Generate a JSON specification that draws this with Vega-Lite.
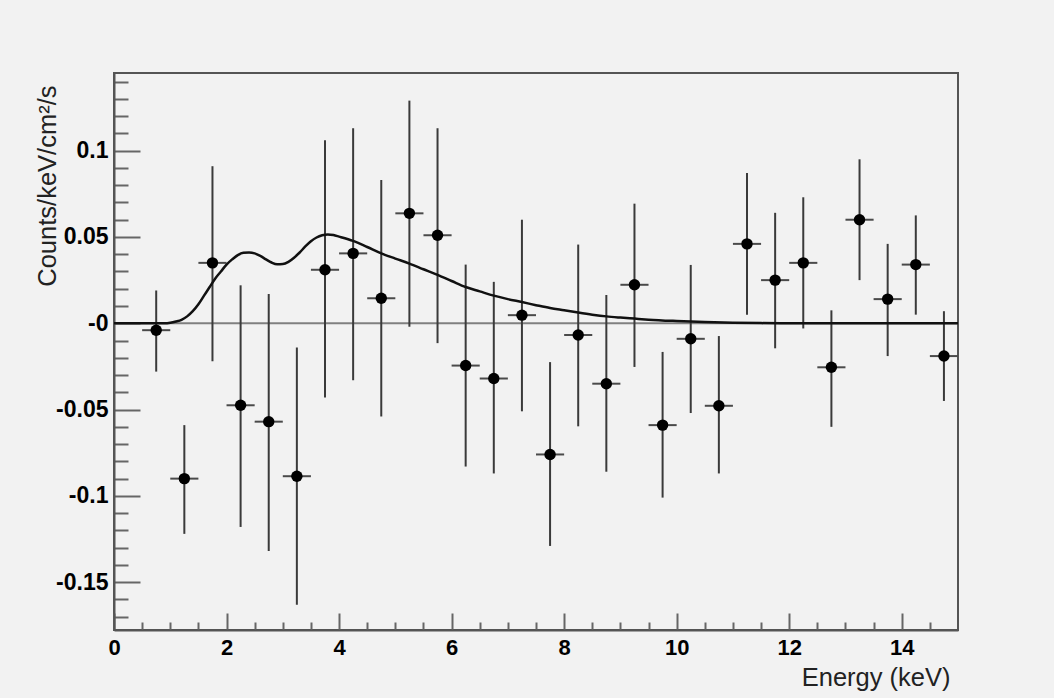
{
  "$schema": "https://vega.github.io/schema/vega-lite/v6.json",
  "width": 844,
  "height": 557,
  "autosize": {"type": "none"},
  "padding": {"left": 114, "top": 73, "right": 96, "bottom": 68},
  "background": "#f2f2f2",
  "config": {
    "view": {"stroke": "#555555", "strokeWidth": 2, "fill": "#f2f2f2"},
    "axis": {
      "grid": false,
      "domainColor": "#555555",
      "domainWidth": 2,
      "tickColor": "#666666",
      "tickWidth": 2,
      "tickCount": 200,
      "labelFont": "Liberation Sans",
      "labelFontWeight": "bold",
      "labelColor": "#000000",
      "labelFontSize": 22,
      "labelOverlap": false,
      "labelBound": false,
      "labelFlush": false,
      "titleFont": "Liberation Sans",
      "titleFontWeight": "normal",
      "titleFontSize": 25.5,
      "titleColor": "#222222"
    }
  },
  "datasets": {
    "points": [
      {"x": 0.75, "xlo": 0.5, "xhi": 1.0, "y": -0.004, "lo": -0.028, "hi": 0.019},
      {"x": 1.25, "xlo": 1.0, "xhi": 1.5, "y": -0.090, "lo": -0.122, "hi": -0.059},
      {"x": 1.75, "xlo": 1.5, "xhi": 2.0, "y": 0.035, "lo": -0.022, "hi": 0.091},
      {"x": 2.25, "xlo": 2.0, "xhi": 2.5, "y": -0.0475, "lo": -0.118, "hi": 0.022},
      {"x": 2.75, "xlo": 2.5, "xhi": 3.0, "y": -0.057, "lo": -0.132, "hi": 0.017},
      {"x": 3.25, "xlo": 3.0, "xhi": 3.5, "y": -0.0886, "lo": -0.163, "hi": -0.014},
      {"x": 3.75, "xlo": 3.5, "xhi": 4.0, "y": 0.031, "lo": -0.043, "hi": 0.106},
      {"x": 4.25, "xlo": 4.0, "xhi": 4.5, "y": 0.0405, "lo": -0.033, "hi": 0.113},
      {"x": 4.75, "xlo": 4.5, "xhi": 5.0, "y": 0.0145, "lo": -0.054, "hi": 0.083},
      {"x": 5.25, "xlo": 5.0, "xhi": 5.5, "y": 0.0637, "lo": -0.002, "hi": 0.129},
      {"x": 5.75, "xlo": 5.5, "xhi": 6.0, "y": 0.051, "lo": -0.0115, "hi": 0.113},
      {"x": 6.25, "xlo": 6.0, "xhi": 6.5, "y": -0.0245, "lo": -0.083, "hi": 0.034},
      {"x": 6.75, "xlo": 6.5, "xhi": 7.0, "y": -0.032, "lo": -0.087, "hi": 0.024},
      {"x": 7.25, "xlo": 7.0, "xhi": 7.5, "y": 0.0047, "lo": -0.051, "hi": 0.060},
      {"x": 7.75, "xlo": 7.5, "xhi": 8.0, "y": -0.076, "lo": -0.129, "hi": -0.0225},
      {"x": 8.25, "xlo": 8.0, "xhi": 8.5, "y": -0.0068, "lo": -0.0597, "hi": 0.0456},
      {"x": 8.75, "xlo": 8.5, "xhi": 9.0, "y": -0.035, "lo": -0.086, "hi": 0.0164},
      {"x": 9.25, "xlo": 9.0, "xhi": 9.5, "y": 0.0223, "lo": -0.0253, "hi": 0.0693},
      {"x": 9.75, "xlo": 9.5, "xhi": 10.0, "y": -0.059, "lo": -0.101, "hi": -0.0166},
      {"x": 10.25, "xlo": 10.0, "xhi": 10.5, "y": -0.009, "lo": -0.052, "hi": 0.0338},
      {"x": 10.75, "xlo": 10.5, "xhi": 11.0, "y": -0.0478, "lo": -0.087, "hi": -0.0074},
      {"x": 11.25, "xlo": 11.0, "xhi": 11.5, "y": 0.046, "lo": 0.005, "hi": 0.087},
      {"x": 11.75, "xlo": 11.5, "xhi": 12.0, "y": 0.025, "lo": -0.0145, "hi": 0.064},
      {"x": 12.25, "xlo": 12.0, "xhi": 12.5, "y": 0.035, "lo": -0.003, "hi": 0.073},
      {"x": 12.75, "xlo": 12.5, "xhi": 13.0, "y": -0.0255, "lo": -0.060, "hi": 0.0075},
      {"x": 13.25, "xlo": 13.0, "xhi": 13.5, "y": 0.060, "lo": 0.025, "hi": 0.095},
      {"x": 13.75, "xlo": 13.5, "xhi": 14.0, "y": 0.014, "lo": -0.019, "hi": 0.046},
      {"x": 14.25, "xlo": 14.0, "xhi": 14.5, "y": 0.034, "lo": 0.005, "hi": 0.0625},
      {"x": 14.75, "xlo": 14.5, "xhi": 15.0, "y": -0.019, "lo": -0.045, "hi": 0.007}
    ],
    "curve": [
      {"e": 0.0, "f": 0.0}, {"e": 0.5, "f": 0.0}, {"e": 0.9, "f": 0.0},
      {"e": 1.0, "f": 0.0003}, {"e": 1.1, "f": 0.001}, {"e": 1.2, "f": 0.002},
      {"e": 1.3, "f": 0.004}, {"e": 1.4, "f": 0.007}, {"e": 1.5, "f": 0.011},
      {"e": 1.6, "f": 0.016}, {"e": 1.7, "f": 0.021}, {"e": 1.8, "f": 0.026},
      {"e": 1.9, "f": 0.030}, {"e": 2.0, "f": 0.034}, {"e": 2.1, "f": 0.037},
      {"e": 2.2, "f": 0.0395}, {"e": 2.3, "f": 0.0408}, {"e": 2.4, "f": 0.041},
      {"e": 2.5, "f": 0.0405}, {"e": 2.6, "f": 0.039}, {"e": 2.7, "f": 0.037},
      {"e": 2.8, "f": 0.0352}, {"e": 2.9, "f": 0.0342}, {"e": 3.0, "f": 0.0343},
      {"e": 3.1, "f": 0.0356}, {"e": 3.2, "f": 0.038}, {"e": 3.3, "f": 0.041},
      {"e": 3.4, "f": 0.0445}, {"e": 3.5, "f": 0.0475}, {"e": 3.6, "f": 0.0497},
      {"e": 3.7, "f": 0.051}, {"e": 3.8, "f": 0.0515}, {"e": 3.9, "f": 0.0511},
      {"e": 4.0, "f": 0.0502}, {"e": 4.25, "f": 0.0477}, {"e": 4.5, "f": 0.0442},
      {"e": 4.75, "f": 0.0405}, {"e": 5.0, "f": 0.0375}, {"e": 5.25, "f": 0.0346},
      {"e": 5.5, "f": 0.0313}, {"e": 5.75, "f": 0.028}, {"e": 6.0, "f": 0.0245},
      {"e": 6.25, "f": 0.021}, {"e": 6.5, "f": 0.0185}, {"e": 6.75, "f": 0.016},
      {"e": 7.0, "f": 0.014}, {"e": 7.25, "f": 0.0123}, {"e": 7.5, "f": 0.0105},
      {"e": 7.75, "f": 0.0088}, {"e": 8.0, "f": 0.0075}, {"e": 8.25, "f": 0.0062},
      {"e": 8.5, "f": 0.005}, {"e": 8.75, "f": 0.004}, {"e": 9.0, "f": 0.0033},
      {"e": 9.25, "f": 0.0027}, {"e": 9.5, "f": 0.0021}, {"e": 10.0, "f": 0.0013},
      {"e": 10.5, "f": 0.0007}, {"e": 11.0, "f": 0.0003}, {"e": 11.5, "f": 0.0001},
      {"e": 12.0, "f": 0.0}, {"e": 15.0, "f": 0.0}
    ],
    "zero": [{"v": 0}]
  },
  "layer": [
    {
      "data": {"name": "zero"},
      "mark": {"type": "rule", "color": "#808080", "strokeWidth": 2},
      "encoding": {
        "y": {
          "field": "v", "type": "quantitative",
          "scale": {"domain": [-0.1777, 0.145], "nice": false, "zero": false},
          "axis": {
            "values": [-0.17,-0.16,-0.15,-0.14,-0.13,-0.12,-0.11,-0.1,-0.09,-0.08,-0.07,-0.06,-0.05,-0.04,-0.03,-0.02,-0.01,0,0.01,0.02,0.03,0.04,0.05,0.06,0.07,0.08,0.09,0.1,0.11,0.12,0.13,0.14],
            "tickCount": 200,
            "labelExpr": "abs(round(datum.value*100)) % 5 == 0 ? (abs(datum.value) < 0.000001 ? '-0' : ((datum.value < 0 ? '-' : '') + format(abs(datum.value), '~g'))) : ''",
            "tickSize": {"condition": {"test": "abs(round(datum.value*100)) % 5 == 0", "value": -26}, "value": -14},
            "labelPadding": 32,
            "labelFontSize": 23,
            "title": "Counts/keV/cm²/s",
            "titleAngle": -90,
            "titleAlign": "right",
            "titleBaseline": "middle",
            "titleX": -67,
            "titleY": 12
          }
        }
      }
    },
    {
      "data": {"name": "points"},
      "mark": {"type": "rule", "color": "#3a3a3a", "strokeWidth": 2},
      "encoding": {
        "x": {
          "field": "x", "type": "quantitative",
          "scale": {"domain": [0, 15], "nice": false, "zero": false},
          "axis": {
            "values": [0,0.5,1,1.5,2,2.5,3,3.5,4,4.5,5,5.5,6,6.5,7,7.5,8,8.5,9,9.5,10,10.5,11,11.5,12,12.5,13,13.5,14,14.5],
            "tickCount": 200,
            "labelExpr": "datum.value % 2 == 0 ? format(datum.value, 'd') : ''",
            "tickSize": {"condition": {"test": "datum.value % 2 == 0", "value": -17}, "value": -8},
            "labelPadding": 24,
            "title": "Energy (keV)",
            "titleAlign": "right",
            "titleBaseline": "alphabetic",
            "titleX": 836,
            "titleY": 55
          }
        },
        "y": {"field": "lo", "type": "quantitative"},
        "y2": {"field": "hi"}
      }
    },
    {
      "data": {"name": "points"},
      "mark": {"type": "rule", "color": "#4a4a4a", "strokeWidth": 2},
      "encoding": {
        "x": {"field": "xlo", "type": "quantitative"},
        "x2": {"field": "xhi"},
        "y": {"field": "y", "type": "quantitative"}
      }
    },
    {
      "data": {"name": "curve"},
      "mark": {"type": "line", "color": "#111111", "strokeWidth": 2.5, "interpolate": "monotone"},
      "encoding": {
        "x": {"field": "e", "type": "quantitative"},
        "y": {"field": "f", "type": "quantitative"}
      }
    },
    {
      "data": {"name": "points"},
      "mark": {"type": "point", "filled": true, "shape": "circle", "color": "#000000", "size": 130, "opacity": 1},
      "encoding": {
        "x": {"field": "x", "type": "quantitative"},
        "y": {"field": "y", "type": "quantitative"}
      }
    }
  ]
}
